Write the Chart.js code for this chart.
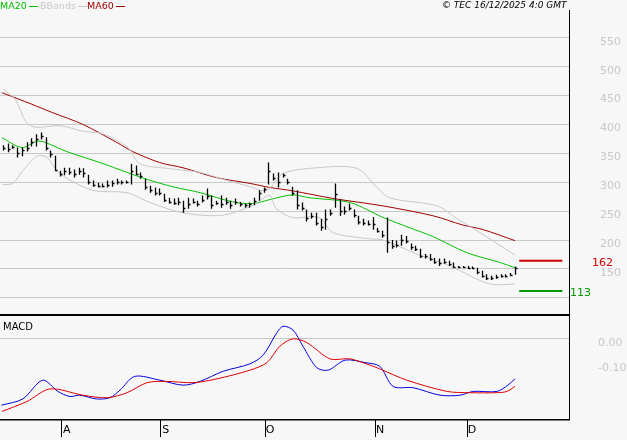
<!DOCTYPE html>
<html>
<head>
<meta charset="utf-8">
<script src="https://cdn.jsdelivr.net/npm/chart.js@4/dist/chart.umd.min.js"></script>
<style>
  body { margin: 0; background: #f7f7f7; font-family: "DejaVu Sans", sans-serif; }
  #wrap { position: relative; width: 627px; height: 440px; }
  #c1 { position: absolute; left: 0; top: 0; }
  #c2 { position: absolute; left: 0; top: 314px; }
  .leg { position: absolute; top: 0; font-size: 9.5px; line-height: 11px; white-space: nowrap; }
  .dash { display: inline-block; width: 9px; height: 1px; vertical-align: middle; margin-left: 2px; }
</style>
</head>
<body>
<div id="wrap">
  <canvas id="c1" width="627" height="315"></canvas>
  <canvas id="c2" width="627" height="126"></canvas>
  <div class="leg" style="left:0px;color:#00c000">MA20<span class="dash" style="background:#00c000"></span></div>
  <div class="leg" style="left:40px;color:#c8c8c8">BBands<span class="dash" style="background:#c8c8c8"></span></div>
  <div class="leg" style="left:87px;color:#a00000">MA60<span class="dash" style="background:#a00000"></span></div>
  <div class="leg" style="left:442px;color:#000;font-style:italic;font-size:9px">&#169; TEC 16/12/2025 4:0 GMT</div>
</div>
<script>
// daily bars
var highs = [364,367,364,360,360,369,376,383,386,378,355,346,320,325,325,322,325,324,313,303,299,298,303,303,306,303,303,332,329,317,306,294,291,289,280,273,272,273,268,273,272,268,277,289,277,268,277,273,268,272,266,263,265,273,286,291,334,
  315,317,315,306,292,286,265,253,247,247,237,253,253,298,270,258,263,253,242,237,234,240,221,216,239,200,199,209,207,194,190,185,176,176,169,168,168,164,161,155,155,155,154,152,147,141,138,140,141,141,143,154];
var lows = [355,352,358,343,345,353,362,362,374,355,343,319,310,312,313,308,313,308,296,292,291,291,291,292,296,296,298,296,312,306,287,282,277,277,266,263,261,260,247,254,263,258,265,270,254,261,256,261,254,261,258,256,256,260,268,282,296,
  303,291,308,296,277,253,251,232,237,225,216,218,242,256,242,244,251,239,227,225,225,218,213,204,178,185,187,190,194,183,181,169,168,164,159,155,159,155,152,152,152,150,150,141,135,131,131,133,135,135,138,140];
var closes = [360,358,361,350,355,360,370,375,380,360,348,322,314,320,318,314,320,316,300,296,294,294,296,298,300,300,300,320,314,310,292,286,282,282,270,266,264,266,256,262,266,262,270,276,260,264,262,266,260,266,262,260,262,268,282,288,320,
  308,300,312,300,282,260,256,238,242,230,222,236,246,280,250,250,256,244,232,230,228,228,216,208,196,190,192,200,198,188,184,172,172,168,162,160,162,158,154,154,154,152,152,144,138,134,134,136,138,138,140,152];

var ma60 = [[-0.2,455],[6.1,435],[10.3,421],[16.9,400],[24,369],[27.4,353],[33.1,334],[38,325],[45.1,308],[52.1,298],[56.3,291],[61.2,285],[69.6,272],[80.2,259],[90.7,242],[97,226],[101.3,218],[108,199]];
var ma20 = [[-0.2,377],[4,360],[7.2,371],[8.9,369],[13.5,353],[20.5,334],[26.2,317],[30.4,305],[35.9,292],[41.6,282],[48.5,266],[52.7,263],[56.3,270],[61,278],[64.8,273],[73.2,265],[80.2,239],[85.9,221],[90.7,206],[97.9,178],[104.9,161],[108,152]];
var bbUpper = [[0,462],[2.7,442],[4.9,404],[7,395],[12,398],[17,388],[21,384],[26.4,360],[28.9,332],[34.6,324],[41.6,317],[47.3,303],[51.5,294],[55.7,286],[59.1,315],[66.2,325],[74.7,324],[78.9,291],[81.6,273],[91.6,259],[95.8,237],[100,216],[108,174]];
var bbLower = [[0,296],[2.1,298],[4.2,320],[7.2,345],[9.3,343],[12,315],[19,286],[26.2,282],[31,265],[38,247],[45.1,242],[48.5,247],[52.7,260],[56.3,277],[57.5,256],[61,239],[66.7,239],[69.6,213],[77.4,202],[80.2,200],[87.3,176],[94.3,155],[102.7,124],[108,124]];
var macd = [[-0.3,-0.265],[4.2,-0.24],[8.4,-0.165],[11.6,-0.21],[14.1,-0.23],[16.2,-0.225],[19.8,-0.24],[22.6,-0.235],[24.7,-0.205],[27.8,-0.15],[33.1,-0.165],[38,-0.185],[41.6,-0.17],[46.4,-0.13],[52.1,-0.10],[54.9,-0.065],[57.8,0.025],[59.1,0.05],[61.2,0.035],[63.3,-0.03],[66.2,-0.115],[68.6,-0.125],[72.2,-0.085],[76.4,-0.095],[79.5,-0.11],[82.3,-0.19],[86.5,-0.195],[92.2,-0.225],[96.4,-0.225],[99.2,-0.21],[104.2,-0.21],[106.5,-0.185],[108,-0.16]];
var signal = [[-0.2,-0.29],[5.1,-0.25],[9.9,-0.20],[16.9,-0.225],[22,-0.235],[26.2,-0.215],[30.4,-0.175],[34.6,-0.17],[40.1,-0.175],[45.1,-0.16],[52.1,-0.125],[55.7,-0.095],[58.4,-0.03],[61.2,0],[64.1,-0.015],[69,-0.08],[73.2,-0.08],[77.4,-0.105],[79.5,-0.12],[85.2,-0.165],[93.7,-0.21],[98.5,-0.215],[104.2,-0.215],[106.3,-0.21],[108,-0.19]];

var priceTicks = [100,150,200,250,300,350,400,450,500,550];
var macdTicks = [0,-0.1];
var monthLabels = ['A','S','O','N','D'];
var monthPos = [12.4,33.3,55.3,78.5,97.9];
var lastMarks = [{value:164, label:'162', color:'#cc0000'},{value:112, label:'113', color:'#009900'}];

var X_MIN = -0.6, X_MAX = 119.4;

function pts(arr){ return arr.map(function(p){ return {x:p[0], y:p[1]}; }); }
function lineSet(arr, color){
  return {type:'line', data:pts(arr), borderColor:color, borderWidth:1, pointRadius:0, tension:0.3};
}

var ohlcPlugin = {
  id: 'ohlc',
  afterDatasetsDraw: function(chart){
    var ctx = chart.ctx, xs = chart.scales.x, ys = chart.scales.y;
    ctx.save();
    ctx.strokeStyle = '#000';
    ctx.lineWidth = 1.3;
    for (var i = 0; i < highs.length; i++){
      var px = Math.round(xs.getPixelForValue(i)) + 0.5;
      ctx.beginPath();
      ctx.moveTo(px, ys.getPixelForValue(highs[i]));
      ctx.lineTo(px, ys.getPixelForValue(lows[i]));
      var cy = Math.round(ys.getPixelForValue(closes[i])) + 0.5;
      ctx.moveTo(px, cy); ctx.lineTo(px + 2, cy);
      ctx.stroke();
    }
    // last-price markers
    lastMarks.forEach(function(m){
      var y = ys.getPixelForValue(m.value);
      ctx.strokeStyle = m.color;
      ctx.lineWidth = 2;
      ctx.beginPath();
      ctx.moveTo(xs.getPixelForValue(108.9), y);
      ctx.lineTo(xs.getPixelForValue(118), y);
      ctx.stroke();
      ctx.fillStyle = m.color;
      ctx.font = '11px "DejaVu Sans"';
      ctx.textBaseline = 'middle';
      ctx.fillText(m.label, m.label === '162' ? 592 : 570, y + 2);
    });
    ctx.restore();
  }
};

new Chart(document.getElementById('c1'), {
  data: {
    datasets: [
      lineSet(bbUpper, '#c8c8c8'),
      lineSet(bbLower, '#c8c8c8'),
      lineSet(ma60, '#a00000'),
      lineSet(ma20, '#00c000')
    ]
  },
  options: {
    responsive: false, animation: false,
    layout: {padding: {top: 10, left: 0, right: 0, bottom: 0}, autoPadding: false},
    plugins: {legend: {display: false}, tooltip: {enabled: false}},
    scales: {
      x: {type: 'linear', min: X_MIN, max: X_MAX, display: false},
      y: {
        position: 'right', min: 70.3, max: 598,
        afterBuildTicks: function(s){ s.ticks = priceTicks.map(function(v){ return {value:v}; }); },
        afterFit: function(s){ s.width = 58; s.paddingTop = 0; s.paddingBottom = 0; },
        grid: {color: '#c8c8c8', tickLength: 30, tickColor: 'rgba(0,0,0,0)'},
        border: {display: true, color: '#000', width: 1},
        ticks: {color: '#c8c8c8', padding: 1, labelOffset: 4, font: {size: 11, family: 'DejaVu Sans'},
          callback: function(v){ return v === 100 ? '' : v; }}
      }
    }
  },
  plugins: [ohlcPlugin]
});

var macdPlugin = {
  id: 'macdframe',
  afterDraw: function(chart){
    var ctx = chart.ctx, a = chart.chartArea;
    ctx.save();
    ctx.fillStyle = '#000';
    ctx.fillRect(0, 0, a.right + 1, 2);
    ctx.fillRect(0, a.bottom, a.right + 1, 1.5);
    ctx.font = '10px "DejaVu Sans"';
    ctx.textBaseline = 'top';
    ctx.fillText('MACD', 3, 8);
    ctx.restore();
  }
};

new Chart(document.getElementById('c2'), {
  data: {
    datasets: [
      lineSet(signal, '#dd0000'),
      lineSet(macd, '#0000dd')
    ]
  },
  options: {
    responsive: false, animation: false,
    layout: {padding: {top: 1, left: 0, right: 0, bottom: 0}, autoPadding: false},
    plugins: {legend: {display: false}, tooltip: {enabled: false}},
    scales: {
      x: {
        type: 'linear', min: X_MIN, max: X_MAX,
        afterBuildTicks: function(s){ s.ticks = monthPos.map(function(v){ return {value:v}; }); },
        afterFit: function(s){ s.height = 21; s.paddingLeft = 0; s.paddingRight = 0; },
        grid: {drawOnChartArea: false, tickLength: 18, color: '#000'},
        border: {display: false},
        ticks: {color: '#000', padding: -13, labelOffset: 5, maxRotation: 0, autoSkip: false,
          font: {size: 11, family: 'DejaVu Sans'},
          callback: function(v, i){ return monthLabels[i]; }}
      },
      y: {
        position: 'right', min: -0.32, max: 0.095,
        afterBuildTicks: function(s){ s.ticks = macdTicks.map(function(v){ return {value:v}; }); },
        afterFit: function(s){ s.width = 58; s.paddingTop = 0; s.paddingBottom = 0; },
        grid: {color: function(c){ return c.tick && c.tick.value === 0 ? '#c8c8c8' : 'rgba(0,0,0,0)'; }, tickLength: 28, tickColor: 'rgba(0,0,0,0)'},
        border: {display: true, color: '#000', width: 1},
        ticks: {color: '#c8c8c8', padding: 1, labelOffset: 4, font: {size: 11, family: 'DejaVu Sans'},
          callback: function(v){ return v.toFixed(2); }}
      }
    }
  },
  plugins: [macdPlugin]
});
</script>
</body>
</html>
